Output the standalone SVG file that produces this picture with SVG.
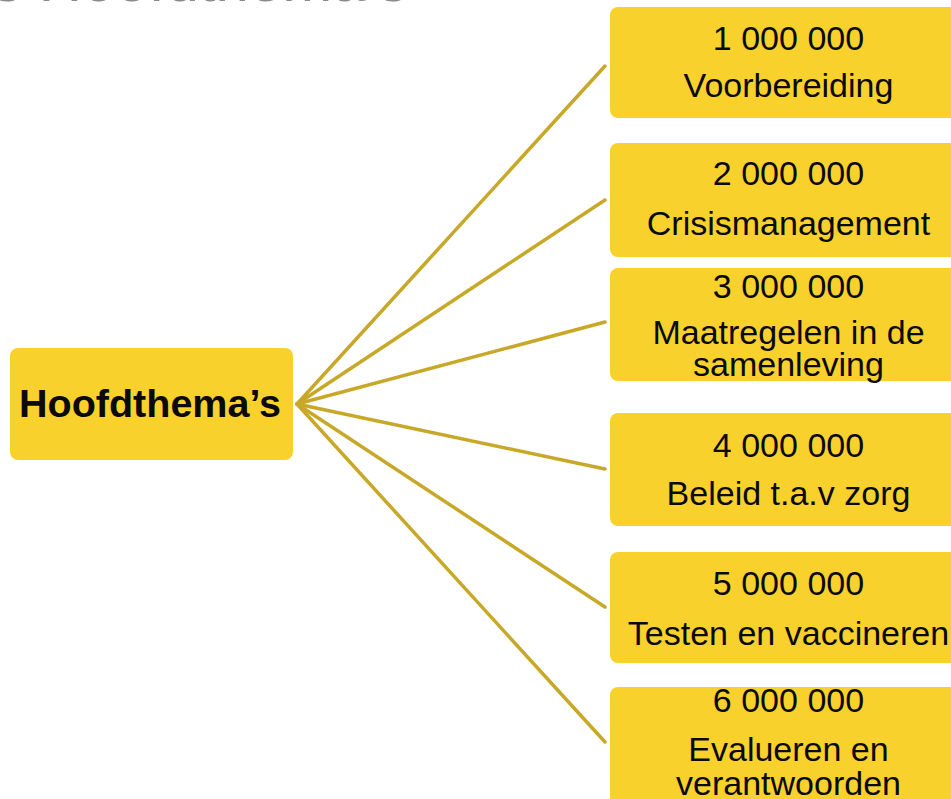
<svg xmlns="http://www.w3.org/2000/svg" width="951" height="799" viewBox="0 0 951 799">
<style>
.box{fill:#F8D12C}
.t{font-family:"Liberation Sans",Arial,sans-serif;font-size:34px;fill:#0a0a0a;text-anchor:middle}
.hub{font-family:"Liberation Sans",Arial,sans-serif;font-size:39.5px;font-weight:bold;fill:#0a0a0a;text-anchor:middle}
.title{font-family:"Liberation Sans",Arial,sans-serif;font-size:60px;fill:#8a8a8a}
#connectors line{stroke:#C8A828;stroke-width:3.5;stroke-linecap:round}
</style>
<rect width="951" height="799" fill="#ffffff"/>
<text class="title" x="-8" y="0.5">s Hoofdthema’s</text>
<g id="connectors">
<line x1="297" y1="404" x2="605" y2="66"/>
<line x1="297" y1="404" x2="605" y2="200"/>
<line x1="297" y1="404" x2="605" y2="322"/>
<line x1="297" y1="404" x2="605" y2="469"/>
<line x1="297" y1="404" x2="605" y2="607"/>
<line x1="297" y1="404" x2="605" y2="742"/>
</g>
<g id="hub">
<rect class="box" x="10" y="348" width="283" height="112" rx="8"/>
<text class="hub" x="150" y="417">Hoofdthema’s</text>
</g>
<g id="n1">
<rect class="box" x="610" y="7" width="360" height="111" rx="8"/>
<text class="t" x="788.5" y="50">1 000 000</text>
<text class="t" x="788.5" y="97">Voorbereiding</text>
</g>
<g id="n2">
<rect class="box" x="610" y="143" width="360" height="114" rx="8"/>
<text class="t" x="788.5" y="185">2 000 000</text>
<text class="t" x="788.5" y="235">Crisismanagement</text>
</g>
<g id="n3">
<rect class="box" x="610" y="268" width="360" height="113" rx="8"/>
<text class="t" x="788.5" y="298">3 000 000</text>
<text class="t" x="788.5" y="344">Maatregelen in de</text>
<text class="t" x="788.5" y="376">samenleving</text>
</g>
<g id="n4">
<rect class="box" x="610" y="413" width="360" height="113" rx="8"/>
<text class="t" x="788.5" y="457">4 000 000</text>
<text class="t" x="788.5" y="505">Beleid t.a.v zorg</text>
</g>
<g id="n5">
<rect class="box" x="610" y="552" width="360" height="111" rx="8"/>
<text class="t" x="788.5" y="595">5 000 000</text>
<text class="t" x="788.5" y="645">Testen en vaccineren</text>
</g>
<g id="n6">
<rect class="box" x="610" y="687" width="360" height="118" rx="8"/>
<text class="t" x="788.5" y="712">6 000 000</text>
<text class="t" x="788.5" y="761">Evalueren en</text>
<text class="t" x="788.5" y="795">verantwoorden</text>
</g>
</svg>
